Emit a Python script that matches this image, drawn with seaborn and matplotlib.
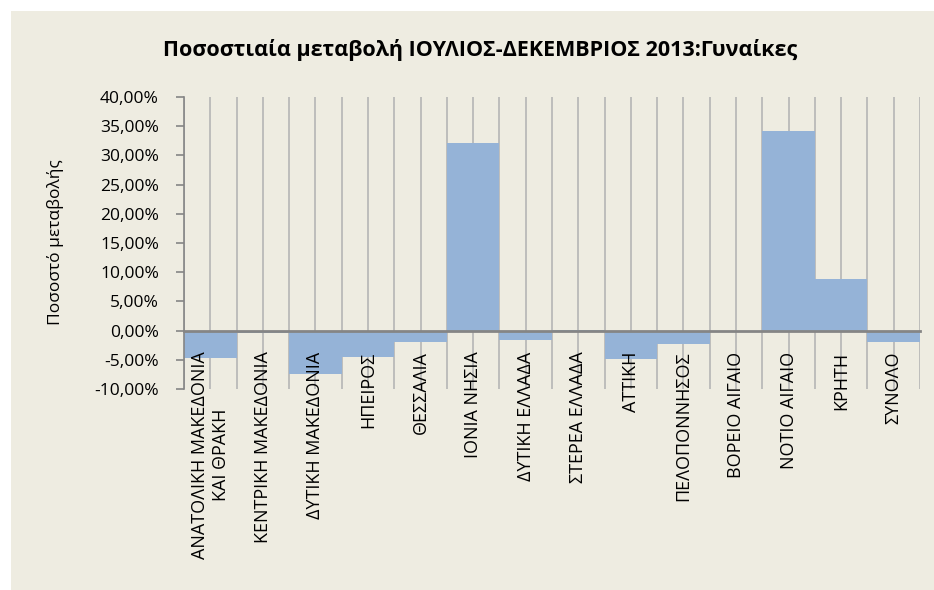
import numpy as np
import pandas as pd
import matplotlib
matplotlib.use("Agg")
import matplotlib.pyplot as plt
import seaborn as sns
from matplotlib.patches import Rectangle
from matplotlib.ticker import FuncFormatter

regions = [
    "ΑΝΑΤΟΛΙΚΗ ΜΑΚΕΔΟΝΙΑ\nΚΑΙ ΘΡΑΚΗ",
    "ΚΕΝΤΡΙΚΗ ΜΑΚΕΔΟΝΙΑ",
    "ΔΥΤΙΚΗ ΜΑΚΕΔΟΝΙΑ",
    "ΗΠΕΙΡΟΣ",
    "ΘΕΣΣΑΛΙΑ",
    "ΙΟΝΙΑ ΝΗΣΙΑ",
    "ΔΥΤΙΚΗ ΕΛΛΑΔΑ",
    "ΣΤΕΡΕΑ ΕΛΛΑΔΑ",
    "ΑΤΤΙΚΗ",
    "ΠΕΛΟΠΟΝΝΗΣΟΣ",
    "ΒΟΡΕΙΟ ΑΙΓΑΙΟ",
    "ΝΟΤΙΟ ΑΙΓΑΙΟ",
    "ΚΡΗΤΗ",
    "ΣΥΝΟΛΟ",
]
change = [-0.047, -0.0045, -0.074, -0.046, -0.019, 0.321, -0.016, 0.0015,
          -0.049, -0.0235, 0.0, 0.341, 0.089, -0.019]
y_ticks = [-0.10, -0.05, 0.0, 0.05, 0.10, 0.15, 0.20, 0.25, 0.30, 0.35, 0.40]

title = "Ποσοστιαία μεταβολή ΙΟΥΛΙΟΣ-ΔΕΚΕΜΒΡΙΟΣ 2013:Γυναίκες"
ylabel = "Ποσοστό μεταβολής"

bg = "#EEECE1"
bar_color = "#95B3D7"

sns.set_style("white")
plt.rcParams["font.family"] = ["Open Sans", "DejaVu Sans"]
plt.rcParams["text.color"] = "black"

df = pd.DataFrame({"region": regions, "change": change})

fig = plt.figure(figsize=(9.34, 5.90), dpi=100)
fig.patch.set_facecolor("white")
panel = Rectangle((11 / 934, 0), 1, 1 - 11 / 590, transform=fig.transFigure,
                  facecolor=bg, edgecolor="none", zorder=-10)
fig.add_artist(panel)

ax = fig.add_axes([184 / 934, 1 - 389 / 590, 736 / 934, 292 / 590])
ax.set_facecolor(bg)

sns.barplot(data=df, x="region", y="change", color=bar_color, saturation=1,
            width=1.0, linewidth=0, ax=ax, zorder=2)

ax.set_xlim(-0.5, len(regions) - 0.5)
ax.set_ylim(-0.10, 0.40)
ax.set_yticks(y_ticks)
ax.yaxis.set_major_formatter(FuncFormatter(lambda v, p: f"{v * 100:.2f}%".replace(".", ",")))

# vertical gridlines at category centres and boundaries, behind the bars
ax.grid(False)
for gx in np.arange(-0.5, len(regions), 0.5):
    ax.axvline(gx, color="#B5B5B5", linewidth=1.2, zorder=1)

# labels drawn above the bars, as in the original
ax.xaxis.set_zorder(3)

for s in ["top", "right"]:
    ax.spines[s].set_visible(False)
ax.spines["bottom"].set_position(("data", 0))
ax.spines["bottom"].set_color("#858585")
ax.spines["bottom"].set_linewidth(2)
ax.spines["bottom"].set_zorder(3)
ax.spines["left"].set_color("#858585")
ax.spines["left"].set_linewidth(1.2)
ax.spines["left"].set_zorder(3)

ax.tick_params(axis="x", which="both", length=0, pad=15)
ax.tick_params(axis="y", length=6, width=1.2, color="#858585", pad=12,
               labelsize=12.5, labelcolor="black", left=True)
ax.set_xticks(range(len(regions)))
ax.set_xticklabels(regions, rotation=90, fontsize=13, ha="center", va="top",
                   multialignment="center", color="black", linespacing=1.2)
ax.set_xlabel("")
ax.set_ylabel("")

fig.text(480 / 934, 1 - 50 / 590, title, ha="center", va="center",
         fontsize=15.5, fontweight="bold")
fig.text(56 / 934, 1 - 242 / 590, ylabel, rotation=90, ha="center", va="center",
         fontsize=12.5)

fig.savefig("out.png", dpi=100, facecolor=fig.get_facecolor())
